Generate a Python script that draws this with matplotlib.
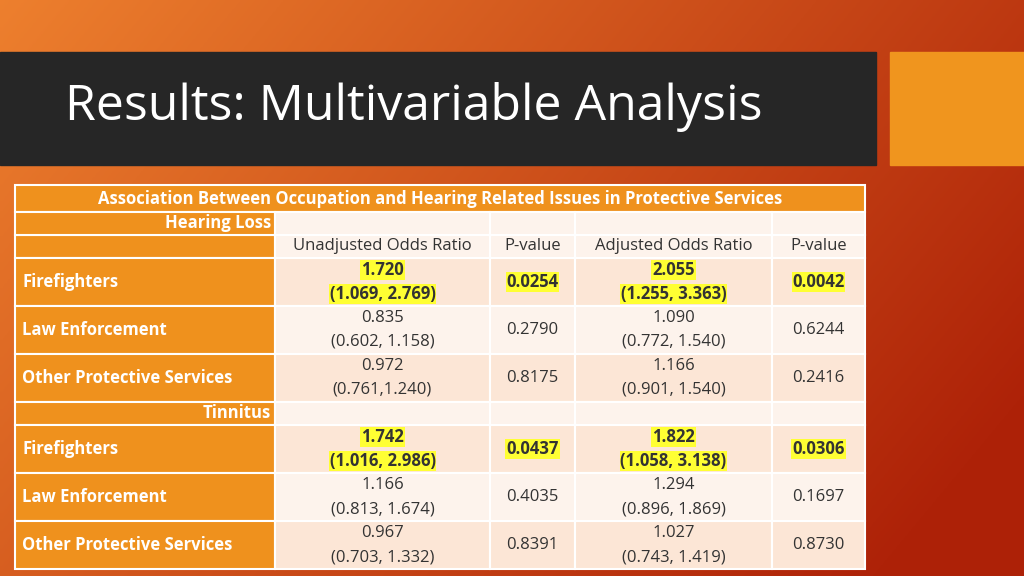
import numpy as np
import matplotlib.pyplot as plt
from matplotlib.patches import Rectangle

title = "Results: Multivariable Analysis"
table_title = "Association Between Occupation and Hearing Related Issues in Protective Services"
headers = ["Unadjusted Odds Ratio", "P-value", "Adjusted Odds Ratio", "P-value"]
sections = ["Hearing Loss", "Tinnitus"]
groups = ["Firefighters", "Law Enforcement", "Other Protective Services"]

unadj_or = [["1.720", "0.835", "0.972"], ["1.742", "1.166", "0.967"]]
unadj_ci = [["(1.069, 2.769)", "(0.602, 1.158)", "(0.761,1.240)"],
            ["(1.016, 2.986)", "(0.813, 1.674)", "(0.703, 1.332)"]]
unadj_p = [["0.0254", "0.2790", "0.8175"], ["0.0437", "0.4035", "0.8391"]]
adj_or = [["2.055", "1.090", "1.166"], ["1.822", "1.294", "1.027"]]
adj_ci = [["(1.255, 3.363)", "(0.772, 1.540)", "(0.901, 1.540)"],
          ["(1.058, 3.138)", "(0.896, 1.869)", "(0.743, 1.419)"]]
adj_p = [["0.0042", "0.6244", "0.2416"], ["0.0306", "0.1697", "0.8730"]]
significant = [[True, False, False], [True, False, False]]

FONT = "Open Sans"
ORANGE = "#ef911d"
LIGHT1 = "#fce6d6"
LIGHT2 = "#fdf3ec"
TXT = "#333333"

fig = plt.figure(figsize=(10.24, 5.76), dpi=100)
ax = fig.add_axes([0, 0, 1, 1])
ax.set_xlim(0, 1024)
ax.set_ylim(576, 0)
ax.axis("off")

# background gradient
g = np.linspace(0, 1, 256)
xx, yy = np.meshgrid(g, g)
t = np.clip(0.75 * xx + 0.35 * yy, 0, 1)
c0 = np.array([0.93, 0.50, 0.18])
c1 = np.array([0.68, 0.13, 0.03])
img = c0[None, None, :] * (1 - t[..., None]) + c1[None, None, :] * t[..., None]
ax.imshow(img, extent=[0, 1024, 576, 0], aspect="auto", zorder=0)

# title bar
ax.add_patch(Rectangle((0, 52), 876, 113, color="#262626", zorder=1))
ax.add_patch(Rectangle((890, 52), 134, 113, color="#f0951e", zorder=1))
ax.text(65, 107, title, color="white", fontsize=36, family=FONT, va="center", zorder=2)

cols = [15, 275, 490, 575, 772, 865]
rows = [185, 212, 235, 258, 306, 354, 402, 425, 473, 521, 569]


def cell(c0_, c1_, r0, r1, color):
    ax.add_patch(Rectangle((cols[c0_], rows[r0]), cols[c1_] - cols[c0_], rows[r1] - rows[r0],
                           facecolor=color, edgecolor="white", lw=1.5, zorder=3))


def cx(c):
    return (cols[c] + cols[c + 1]) / 2


# title row
cell(0, 5, 0, 1, ORANGE)
ax.text((cols[0] + cols[5]) / 2, (rows[0] + rows[1]) / 2 + 1, table_title, color="white",
        fontsize=12, weight="bold", family=FONT, ha="center", va="center", zorder=4)
# header row
cell(0, 1, 2, 3, ORANGE)
for c in range(1, 5):
    cell(c, c + 1, 2, 3, LIGHT2)
    ax.text(cx(c), (rows[2] + rows[3]) / 2, headers[c - 1], color=TXT, fontsize=12,
            family=FONT, ha="center", va="center", zorder=4)

for s, sec in enumerate(sections):
    r = 1 if s == 0 else 6
    cell(0, 1, r, r + 1, ORANGE)
    for c in range(1, 5):
        cell(c, c + 1, r, r + 1, LIGHT2)
    ax.text(cols[1] - 4, (rows[r] + rows[r + 1]) / 2, sec, color="white", fontsize=12,
            weight="bold", family=FONT, ha="right", va="center", zorder=4)
    base = 3 if s == 0 else 7
    for i, grp in enumerate(groups):
        r = base + i
        ym = (rows[r] + rows[r + 1]) / 2
        fill = LIGHT1 if i % 2 == 0 else LIGHT2
        cell(0, 1, r, r + 1, ORANGE)
        for c in range(1, 5):
            cell(c, c + 1, r, r + 1, fill)
        ax.text(cols[0] + 7, ym, grp, color="white", fontsize=12, weight="bold",
                family=FONT, va="center", zorder=4)
        sig = significant[s][i]
        kw = dict(fontsize=12, family=FONT, ha="center", va="center", color=TXT, zorder=4,
                  weight="bold" if sig else "normal")
        if sig:
            kw["bbox"] = dict(boxstyle="square,pad=0.05", fc="#ffff33", ec="none")
        ax.text(cx(1), ym - 12, unadj_or[s][i], **kw)
        ax.text(cx(1), ym + 12, unadj_ci[s][i], **kw)
        ax.text(cx(2), ym, unadj_p[s][i], **kw)
        ax.text(cx(3), ym - 12, adj_or[s][i], **kw)
        ax.text(cx(3), ym + 12, adj_ci[s][i], **kw)
        ax.text(cx(4), ym, adj_p[s][i], **kw)

fig.savefig("out.png", dpi=100)
